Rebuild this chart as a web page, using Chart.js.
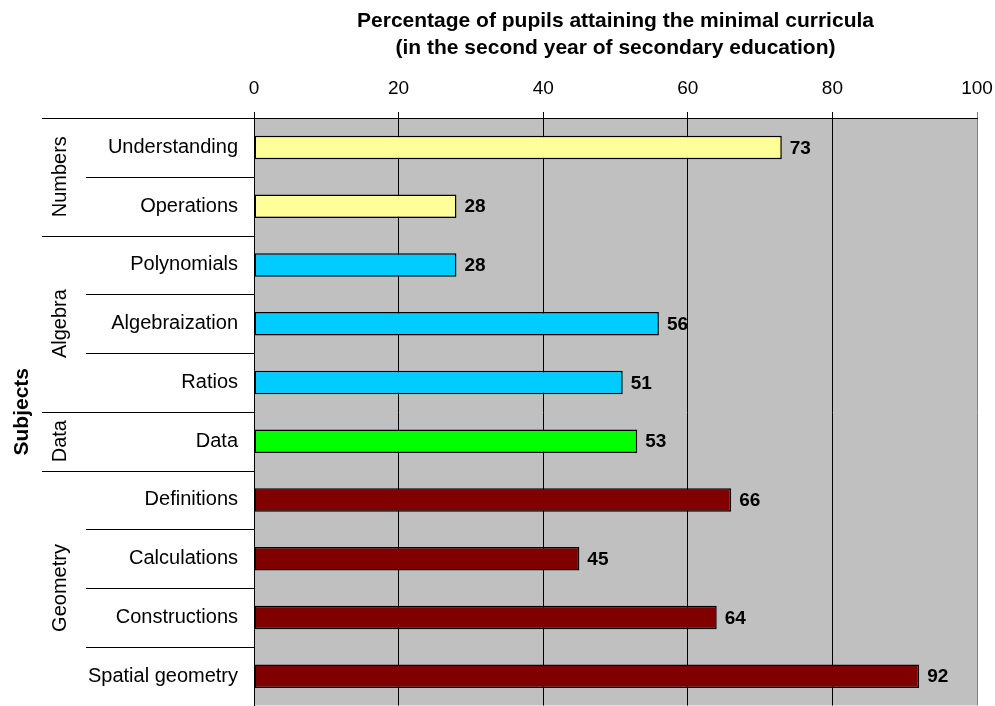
<!DOCTYPE html>
<html>
<head>
<meta charset="utf-8">
<script src="https://cdn.jsdelivr.net/npm/chart.js@4/dist/chart.umd.min.js"></script>
<style>
  body { margin: 0; background: #fff; }
  #wrap { width: 995px; height: 706px; }
</style>
</head>
<body>
<div id="wrap"><canvas id="chart" width="995" height="706"></canvas></div>
<script>
// data
let categories = ['Understanding', 'Operations', 'Polynomials', 'Algebraization', 'Ratios',
                  'Data', 'Definitions', 'Calculations', 'Constructions', 'Spatial geometry'];
let values = [73, 28, 28, 56, 51, 53, 66, 45, 64, 92];
let groups = ['Numbers', 'Numbers', 'Algebra', 'Algebra', 'Algebra',
              'Data', 'Geometry', 'Geometry', 'Geometry', 'Geometry'];
let groupColors = { Numbers: '#FFFF99', Algebra: '#00CCFF', Data: '#00FF00', Geometry: '#800000' };
let titleLines = ['Percentage of pupils attaining the minimal curricula',
                  '(in the second year of secondary education)'];
let axisName = 'Subjects';

const FONT = '"Liberation Sans", Arial, sans-serif';

// grey plot area
const plotBg = {
  id: 'plotBg',
  beforeDraw(chart) {
    const a = chart.chartArea, c = chart.ctx;
    c.save();
    c.fillStyle = '#C0C0C0';
    c.fillRect(a.left, a.top, a.right - a.left, a.bottom - a.top);
    c.restore();
  }
};

// group labels, separators and value labels
const extras = {
  id: 'extras',
  afterDraw(chart) {
    const c = chart.ctx, a = chart.chartArea, y = chart.scales.y;
    const half = (y.getPixelForValue(1) - y.getPixelForValue(0)) / 2;
    c.save();
    c.strokeStyle = '#000';
    c.lineWidth = 1;
    // top line continues left of the plot
    c.beginPath();
    c.moveTo(42, Math.round(a.top) + 0.5);
    c.lineTo(a.left, Math.round(a.top) + 0.5);
    c.stroke();
    for (let i = 1; i < categories.length; i++) {
      const py = Math.round(y.getPixelForValue(i) - half) + 0.5;
      const x0 = groups[i] !== groups[i - 1] ? 42 : 86;
      c.beginPath();
      c.moveTo(x0, py);
      c.lineTo(a.left, py);
      c.stroke();
    }
    // group names
    c.fillStyle = '#000';
    c.font = '20px ' + FONT;
    c.textAlign = 'center';
    c.textBaseline = 'middle';
    let start = 0;
    for (let i = 1; i <= categories.length; i++) {
      if (i === categories.length || groups[i] !== groups[start]) {
        const mid = (y.getPixelForValue(start) + y.getPixelForValue(i - 1)) / 2;
        c.save();
        c.translate(60, mid);
        c.rotate(-Math.PI / 2);
        c.fillText(groups[start], 0, 0);
        c.restore();
        start = i;
      }
    }
    // value labels
    c.font = 'bold 19px ' + FONT;
    c.textAlign = 'left';
    const meta = chart.getDatasetMeta(0);
    meta.data.forEach((bar, i) => {
      c.fillText(String(values[i]), bar.x + 8, bar.y + 1);
    });
    c.restore();
  }
};

new Chart(document.getElementById('chart'), {
  type: 'bar',
  data: {
    labels: categories,
    datasets: [{
      data: values,
      backgroundColor: groups.map(g => groupColors[g]),
      borderColor: '#000',
      borderWidth: 1.5,
      borderSkipped: false,
      barPercentage: 0.4,
      categoryPercentage: 1
    }]
  },
  options: {
    indexAxis: 'y',
    responsive: false,
    animation: false,
    layout: { padding: { left: 0, right: 18, top: 0, bottom: 0 } },
    plugins: { legend: { display: false }, tooltip: { enabled: false } },
    scales: {
      x: {
        position: 'top',
        min: 0, max: 100,
        ticks: { stepSize: 20, color: '#000', font: { family: FONT, size: 19, lineHeight: '44px' }, padding: 1 },
        grid: {
          color: ctx => (ctx.tick && ctx.tick.value === 100 ? '#808080' : '#000'),
          lineWidth: 1,
          tickLength: 6
        },
        border: { display: true, color: '#000', width: 1 },
        title: {
          display: true,
          text: titleLines,
          color: '#000',
          font: { family: FONT, size: 21, weight: 'bold', lineHeight: '27px' },
          padding: { top: 8, bottom: 0 }
        },
        afterFit(scale) { scale.height = 118; }
      },
      y: {
        ticks: { color: '#000', font: { family: FONT, size: 20, lineHeight: '1px' }, padding: 0, autoSkip: false },
        grid: { display: true, drawOnChartArea: false, drawTicks: true, tickLength: 16, tickColor: 'rgba(0,0,0,0)' },
        border: { display: true, color: '#000', width: 1 },
        title: {
          display: true,
          text: axisName,
          color: '#000',
          font: { family: FONT, size: 21, weight: 'bold' },
          padding: { top: 10, bottom: 0 }
        },
        afterFit(scale) { scale.width = 254; }
      }
    }
  },
  plugins: [plotBg, extras]
});
</script>
</body>
</html>
